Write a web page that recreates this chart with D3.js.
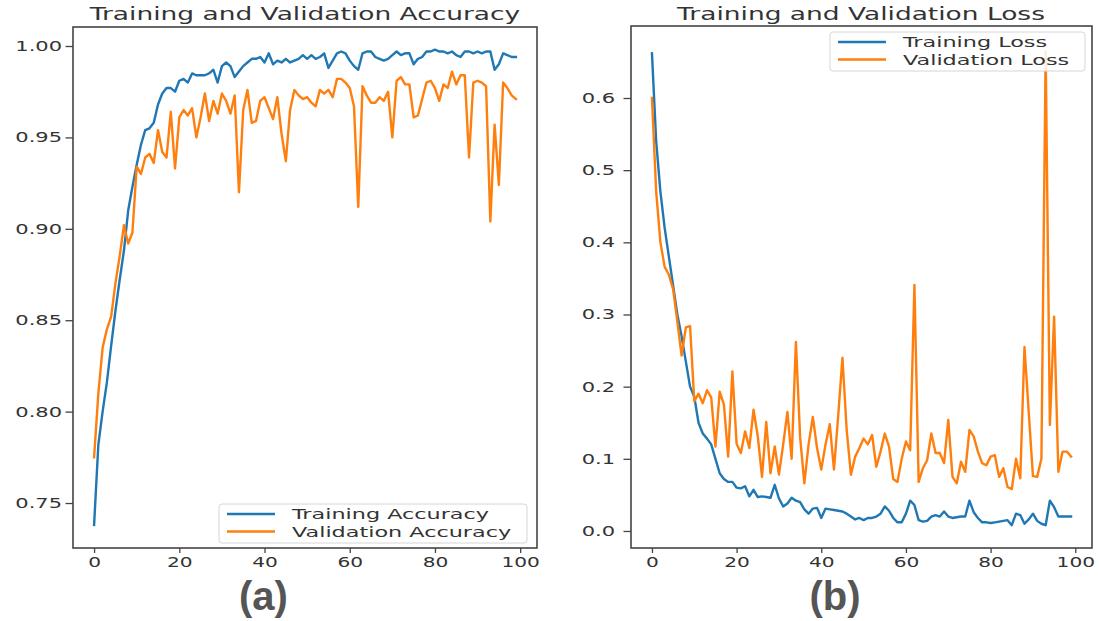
<!DOCTYPE html>
<html>
<head>
<meta charset="utf-8">
<script src="https://cdn.jsdelivr.net/npm/d3@7"></script>
<style>
  html, body { margin: 0; padding: 0; background: #fff; }
  svg { display: block; }
</style>
</head>
<body>
<svg id="chart" width="1099" height="621"></svg>
<script>
// ---------------- data ----------------
const epochs = d3.range(0, 100);

const trainAcc = [0.738,0.782,0.800,0.816,0.836,0.855,0.872,0.888,0.910,0.923,
0.935,0.946,0.954,0.955,0.958,0.968,0.974,0.977,0.977,0.975,
0.981,0.982,0.980,0.985,0.984,0.984,0.984,0.985,0.987,0.980,
0.989,0.991,0.989,0.983,0.986,0.989,0.991,0.993,0.993,0.994,
0.991,0.996,0.990,0.992,0.991,0.993,0.991,0.992,0.993,0.995,
0.993,0.995,0.993,0.994,0.996,0.988,0.992,0.996,0.997,0.996,
0.992,0.989,0.987,0.996,0.997,0.997,0.994,0.993,0.992,0.993,
0.995,0.997,0.995,0.996,0.996,0.990,0.993,0.994,0.997,0.997,
0.998,0.997,0.997,0.996,0.997,0.995,0.994,0.997,0.997,0.996,
0.997,0.996,0.997,0.997,0.987,0.990,0.996,0.995,0.994,0.994];

const valAcc = [0.775,0.810,0.835,0.845,0.852,0.870,0.885,0.902,0.892,0.898,
0.934,0.930,0.939,0.941,0.936,0.954,0.942,0.939,0.964,0.933,
0.961,0.965,0.962,0.966,0.950,0.961,0.974,0.959,0.970,0.963,
0.974,0.970,0.963,0.973,0.920,0.965,0.976,0.958,0.959,0.970,
0.972,0.966,0.960,0.972,0.952,0.937,0.965,0.976,0.973,0.971,
0.972,0.969,0.967,0.976,0.974,0.976,0.972,0.982,0.982,0.980,
0.977,0.967,0.912,0.978,0.973,0.969,0.969,0.972,0.970,0.975,
0.950,0.981,0.983,0.979,0.979,0.961,0.962,0.971,0.980,0.981,
0.977,0.970,0.979,0.977,0.986,0.979,0.984,0.984,0.939,0.980,
0.981,0.980,0.978,0.904,0.957,0.924,0.980,0.977,0.973,0.971];

const trainLoss = [0.662,0.540,0.470,0.420,0.380,0.340,0.300,0.270,0.235,0.200,
0.186,0.150,0.135,0.128,0.120,0.100,0.080,0.072,0.068,0.068,
0.060,0.059,0.062,0.048,0.057,0.047,0.048,0.047,0.046,0.064,
0.045,0.034,0.038,0.046,0.042,0.040,0.030,0.024,0.031,0.032,
0.018,0.031,0.030,0.029,0.028,0.027,0.024,0.020,0.016,0.018,
0.015,0.018,0.018,0.020,0.024,0.034,0.028,0.018,0.012,0.012,
0.024,0.042,0.036,0.015,0.013,0.014,0.020,0.022,0.020,0.027,
0.020,0.018,0.019,0.020,0.020,0.042,0.026,0.018,0.012,0.012,
0.011,0.012,0.013,0.014,0.015,0.008,0.024,0.022,0.010,0.016,
0.024,0.014,0.010,0.008,0.042,0.033,0.020,0.020,0.020,0.020];

const valLoss = [0.600,0.470,0.400,0.366,0.355,0.335,0.290,0.243,0.282,0.284,
0.180,0.190,0.177,0.195,0.185,0.117,0.193,0.175,0.103,0.221,
0.121,0.108,0.138,0.115,0.168,0.131,0.075,0.151,0.080,0.117,
0.078,0.120,0.165,0.100,0.262,0.130,0.066,0.120,0.158,0.115,
0.085,0.120,0.148,0.085,0.160,0.240,0.140,0.078,0.103,0.115,
0.128,0.120,0.133,0.089,0.110,0.135,0.117,0.072,0.068,0.100,
0.124,0.112,0.341,0.068,0.087,0.098,0.135,0.108,0.108,0.094,
0.154,0.075,0.066,0.096,0.082,0.140,0.131,0.110,0.094,0.091,
0.103,0.105,0.075,0.087,0.061,0.058,0.100,0.073,0.255,0.165,
0.076,0.075,0.100,0.665,0.147,0.297,0.082,0.110,0.110,0.103];

const epochTicks = [0, 20, 40, 60, 80, 100];
const accTicks = [0.75, 0.80, 0.85, 0.90, 0.95, 1.00];
const lossTicks = [0.0, 0.1, 0.2, 0.3, 0.4, 0.5, 0.6];
const accNames = ["Training Accuracy", "Validation Accuracy"];
const lossNames = ["Training Loss", "Validation Loss"];
const titles = ["Training and Validation Accuracy", "Training and Validation Loss"];
const panelLabels = ["(a)", "(b)"];

// ---------------- style ----------------
const COLORS = ["#1f77b4", "#ff7f0e"];
const FONT = "DejaVu Sans, sans-serif";
const TXT = "#333";

const svg = d3.select("#chart");
svg.append("rect").attr("width", 1099).attr("height", 621).attr("fill", "#fff");

function stretchedText(g, x, y, str, size, sx, anchor) {
  return g.append("text")
    .attr("transform", `translate(${x},${y}) scale(${sx},1)`)
    .attr("text-anchor", anchor)
    .attr("font-family", FONT)
    .attr("font-size", size)
    .attr("fill", TXT)
    .text(str);
}

const panels = [
  { frame: {l: 73, r: 537, t: 27, b: 548}, ydom: [0.7254, 1.0104], yticks: accTicks, yfmt: d3.format(".2f"),
    series: [trainAcc, valAcc], names: accNames, title: titles[0], yLabelOff: -11,
    legend: {x: 219, y: 504, w: 308, h: 39}, label: panelLabels[0], labelX: 263.5, titleX: 305 },
  { frame: {l: 631, r: 1092, t: 26, b: 548}, ydom: [-0.0236, 0.6998], yticks: lossTicks, yfmt: d3.format(".1f"),
    series: [trainLoss, valLoss], names: lossNames, title: titles[1], yLabelOff: -16,
    legend: {x: 830, y: 32, w: 255, h: 39}, label: panelLabels[1], labelX: 835, titleX: 861 }
];

panels.forEach(p => {
  const f = p.frame;
  const x = d3.scaleLinear().domain([-4.95, 103.95]).range([f.l, f.r]);
  const y = d3.scaleLinear().domain(p.ydom).range([f.b, f.t]);
  const g = svg.append("g");

  // lines
  const line = d3.line().x((d, i) => x(epochs[i])).y(d => y(d));
  p.series.forEach((s, k) => {
    g.append("path").datum(s)
      .attr("d", line)
      .attr("fill", "none")
      .attr("stroke", COLORS[k])
      .attr("stroke-width", 2.4)
      .attr("stroke-linejoin", "round")
      .attr("stroke-linecap", "square");
  });

  // frame
  g.append("rect").attr("x", f.l).attr("y", f.t)
    .attr("width", f.r - f.l).attr("height", f.b - f.t)
    .attr("fill", "none").attr("stroke", "#444").attr("stroke-width", 1.6);

  // y axis
  const ya = g.append("g").attr("transform", `translate(${f.l},0)`)
    .call(d3.axisLeft(y).tickValues(p.yticks).tickFormat(p.yfmt).tickSize(7.5));
  ya.select(".domain").remove();
  ya.selectAll(".tick line").attr("stroke", "#444").attr("stroke-width", 1.3);
  ya.selectAll(".tick text")
    .attr("x", null)
    .attr("transform", `translate(${p.yLabelOff},0) scale(1.5,1)`)
    .attr("font-family", FONT).attr("font-size", 14).attr("fill", TXT);

  // x axis
  const xa = g.append("g").attr("transform", `translate(0,${f.b})`)
    .call(d3.axisBottom(x).tickValues(epochTicks).tickFormat(d3.format("d")).tickSize(5));
  xa.select(".domain").remove();
  xa.selectAll(".tick line").attr("stroke", "#444").attr("stroke-width", 1.3);
  xa.selectAll(".tick text")
    .attr("y", null)
    .attr("transform", "translate(0,9) scale(1.44,1)")
    .attr("font-family", FONT).attr("font-size", 14).attr("fill", TXT);

  // title
  stretchedText(g, p.titleX, 20, p.title, 18, 1.47, "middle");

  // legend
  const L = p.legend;
  g.append("rect").attr("x", L.x).attr("y", L.y).attr("width", L.w).attr("height", L.h)
    .attr("rx", 3).attr("fill", "#fff").attr("fill-opacity", 0.85)
    .attr("stroke", "#d6d6d6").attr("stroke-width", 1);
  p.names.forEach((n, k) => {
    const ry = L.y + 10 + k * 17.5;
    g.append("line").attr("x1", L.x + 8).attr("x2", L.x + 56)
      .attr("y1", ry).attr("y2", ry)
      .attr("stroke", COLORS[k]).attr("stroke-width", 2.4);
    stretchedText(g, L.x + 73, ry + 5, n, 14.5, 1.54, "start");
  });

  // panel label
  g.append("text")
    .attr("x", p.labelX).attr("y", 610)
    .attr("text-anchor", "middle")
    .attr("font-family", "Liberation Sans, Arial, sans-serif")
    .attr("font-weight", "bold")
    .attr("font-size", 40)
    .attr("fill", "#555")
    .text(p.label);
});
</script>
</body>
</html>
